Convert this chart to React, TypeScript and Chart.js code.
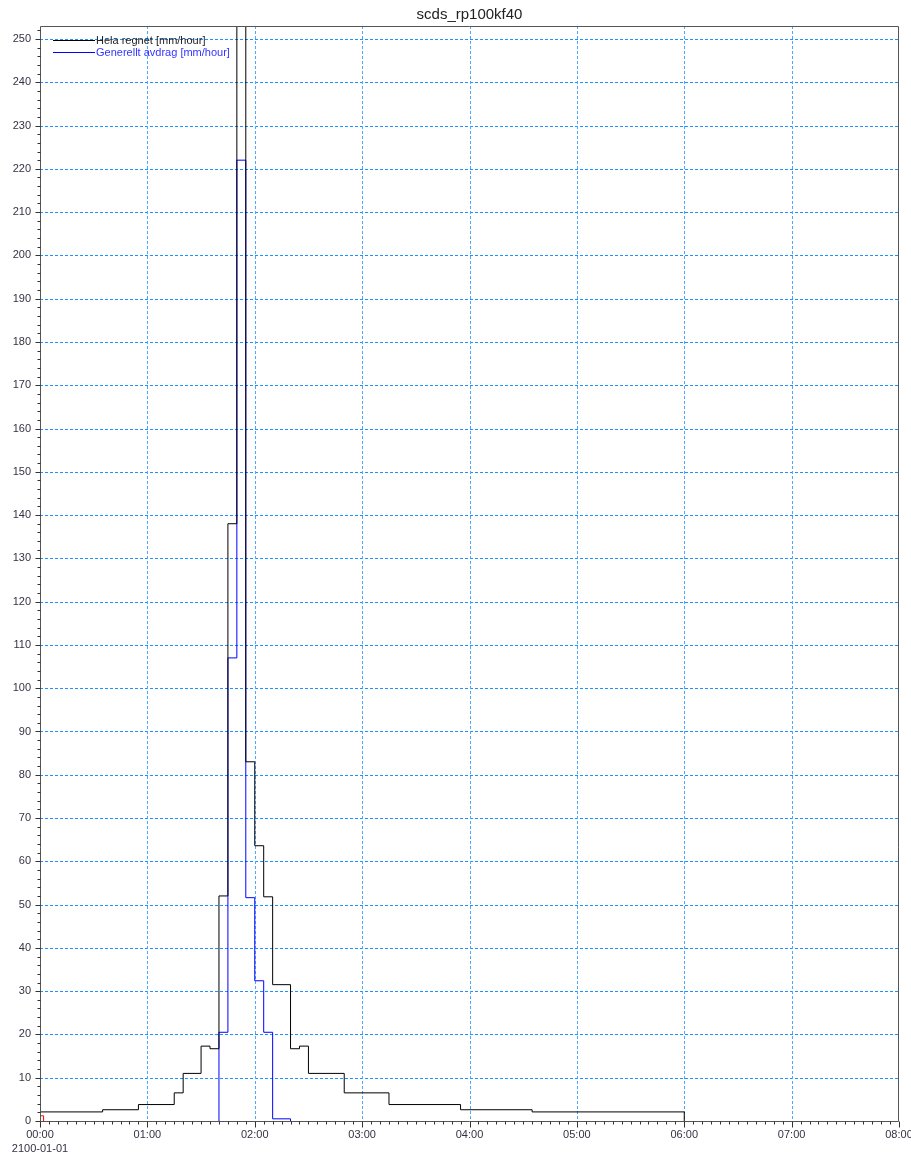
import React, { useEffect, useRef } from 'react';
import { Chart, registerables } from 'chart.js';

Chart.register(...registerables);

const TITLE = 'scds_rp100kf40';
const DATE_LABEL = '2100-01-01';
const seriesNames = ['Hela regnet [mm/hour]', 'Generellt avdrag [mm/hour]', 'Övrigt'];

// Minutes from 2100-01-01 00:00; each value holds until the next time.
const helaTimes = [0, 35, 55, 75, 80, 90, 95, 100, 105, 110, 115, 120, 125, 130, 140, 145, 150, 170, 195, 235, 275, 360];
const helaValues = [2.1, 2.6, 3.8, 6.5, 11, 17.3, 16.7, 52, 138, 300, 83, 63.6, 51.8, 31.5, 16.7, 17.3, 11, 6.5, 3.8, 2.6, 2.1, 0];

const avdragTimes = [100, 100, 105, 110, 115, 120, 125, 130, 140];
const avdragValues = [0, 20.5, 107, 222, 51.6, 32.4, 20.5, 0.5, 0];

const redTimes = [0, 2];
const redValues = [1.2, 0];

const xTickMinutes = [0, 60, 120, 180, 240, 300, 360, 420, 480];
const xMinorStep = 5;
const yTickValues = [0, 10, 20, 30, 40, 50, 60, 70, 80, 90, 100, 110, 120, 130, 140, 150, 160, 170, 180, 190, 200, 210, 220, 230, 240, 250];
const yMinorStep = 2;
const Y_MAX = 253;
const X_MAX = 480;

const seriesColors = ['#000000', '#0000ff', '#ff0000'];

const pts = (t: number[], v: number[]) => t.map((x, i) => ({ x, y: v[i] }));
const pad2 = (n: number) => (n < 10 ? '0' + n : String(n));
const fmtTime = (m: number) => pad2(Math.floor(m / 60)) + ':' + pad2(m % 60);

const FONT = '"Liberation Sans", Arial, sans-serif';

const decorPlugin = {
  id: 'decor',
  beforeDatasetsDraw(chart: any) {
    const { ctx, chartArea: a, scales } = chart;
    const x = scales.x;
    const y = scales.y;
    ctx.save();
    ctx.lineWidth = 1;
    ctx.strokeStyle = '#1e90ff';
    ctx.setLineDash([3, 2]);
    for (const v of yTickValues) {
      if (v === 0) continue;
      const py = Math.round(y.getPixelForValue(v)) + 0.5;
      ctx.beginPath();
      ctx.moveTo(a.left, py);
      ctx.lineTo(a.right, py);
      ctx.stroke();
    }
    ctx.strokeStyle = '#4da6ff';
    for (const m of xTickMinutes) {
      if (m === 0 || m === X_MAX) continue;
      const px = Math.round(x.getPixelForValue(m)) + 0.5;
      ctx.beginPath();
      ctx.moveTo(px, a.top);
      ctx.lineTo(px, a.bottom);
      ctx.stroke();
    }
    ctx.restore();
  },
  afterDatasetsDraw(chart: any) {
    const { ctx, chartArea: a, scales } = chart;
    const x = scales.x;
    const y = scales.y;
    ctx.save();
    ctx.setLineDash([]);
    ctx.lineWidth = 1;
    // frame
    const L = Math.round(a.left) + 0.5;
    const R = Math.round(a.right) - 0.5;
    const T = Math.round(a.top) + 0.5;
    const B = Math.round(a.bottom) + 0.5;
    ctx.strokeStyle = '#555555';
    ctx.beginPath();
    ctx.moveTo(L, T);
    ctx.lineTo(R, T);
    ctx.lineTo(R, B);
    ctx.lineTo(L, B);
    ctx.closePath();
    ctx.stroke();
    // y ticks
    ctx.strokeStyle = '#333333';
    ctx.beginPath();
    for (let v = 0; v <= Y_MAX; v += yMinorStep) {
      const py = Math.round(y.getPixelForValue(v)) + 0.5;
      const major = v % 10 === 0;
      ctx.moveTo(L - (major ? 5 : 3), py);
      ctx.lineTo(L, py);
    }
    // x ticks
    for (let m = 0; m <= X_MAX; m += xMinorStep) {
      const px = Math.round(x.getPixelForValue(m)) + 0.5;
      const major = m % 60 === 0;
      ctx.moveTo(px, B);
      ctx.lineTo(px, B + (major ? 6 : 3));
    }
    ctx.stroke();
    // title
    ctx.fillStyle = '#222222';
    ctx.font = '15px ' + FONT;
    ctx.textAlign = 'center';
    ctx.textBaseline = 'middle';
    ctx.fillText(TITLE, (a.left + a.right) / 2, 15);
    // legend
    ctx.font = '11px ' + FONT;
    ctx.textAlign = 'left';
    for (let i = 0; i < 2; i++) {
      const ly = Math.round(a.top + 14 + i * 12) + 0.5;
      ctx.strokeStyle = seriesColors[i];
      ctx.beginPath();
      ctx.moveTo(a.left + 13, ly);
      ctx.lineTo(a.left + 55, ly);
      ctx.stroke();
      ctx.fillStyle = i === 0 ? '#222222' : '#3333ff';
      ctx.fillText(chart.data.datasets[i].label, a.left + 56, ly);
    }
    ctx.restore();
  },
};

export default function App() {
  const ref = useRef<HTMLCanvasElement | null>(null);
  useEffect(() => {
    if (!ref.current) return;
    const chart = new Chart(ref.current, {
      type: 'line',
      data: {
        datasets: [
          { label: seriesNames[0], data: pts(helaTimes, helaValues), borderColor: seriesColors[0], borderWidth: 1, stepped: true, pointRadius: 0, fill: false },
          { label: seriesNames[1], data: pts(avdragTimes, avdragValues), borderColor: seriesColors[1], borderWidth: 1, stepped: true, pointRadius: 0, fill: false },
          { label: seriesNames[2], data: pts(redTimes, redValues), borderColor: seriesColors[2], borderWidth: 1, stepped: true, pointRadius: 0, fill: false },
        ],
      },
      options: {
        responsive: false,
        animation: false,
        events: [],
        layout: { padding: { top: 26, right: 12, left: 0, bottom: 0 } },
        plugins: { legend: { display: false }, title: { display: false }, tooltip: { enabled: false } },
        scales: {
          x: {
            type: 'linear',
            min: 0,
            max: X_MAX,
            grid: { display: false, drawTicks: false, tickLength: 0 },
            border: { display: false },
            ticks: {
              stepSize: 60,
              includeBounds: false,
              autoSkip: false,
              maxRotation: 0,
              padding: 7,
              color: '#333344',
              font: { family: FONT, size: 11, lineHeight: 14 / 11 },
              callback: (v: any) => {
                const m = Number(v);
                return m === 0 ? [fmtTime(m), DATE_LABEL] : fmtTime(m);
              },
            },
            afterFit: (s: any) => {
              s.height = 36;
              s.paddingLeft = 0;
              s.paddingRight = 0;
            },
          },
          y: {
            type: 'linear',
            min: 0,
            max: Y_MAX,
            grid: { display: false, drawTicks: false, tickLength: 0 },
            border: { display: false },
            ticks: {
              stepSize: 10,
              includeBounds: false,
              autoSkip: false,
              padding: 9,
              color: '#333344',
              font: { family: FONT, size: 11 },
              callback: (v: any) => String(v),
            },
            afterFit: (s: any) => {
              s.width = 40;
              s.paddingTop = 0;
              s.paddingBottom = 0;
            },
          },
        },
      },
      plugins: [decorPlugin],
    });
    return () => chart.destroy();
  }, []);
  return (
    <div style={{ position: 'absolute', left: 0, top: 0, width: 911, height: 1157, background: '#fff' }}>
      <canvas ref={ref} width={911} height={1157} style={{ display: 'block' }} />
    </div>
  );
}
